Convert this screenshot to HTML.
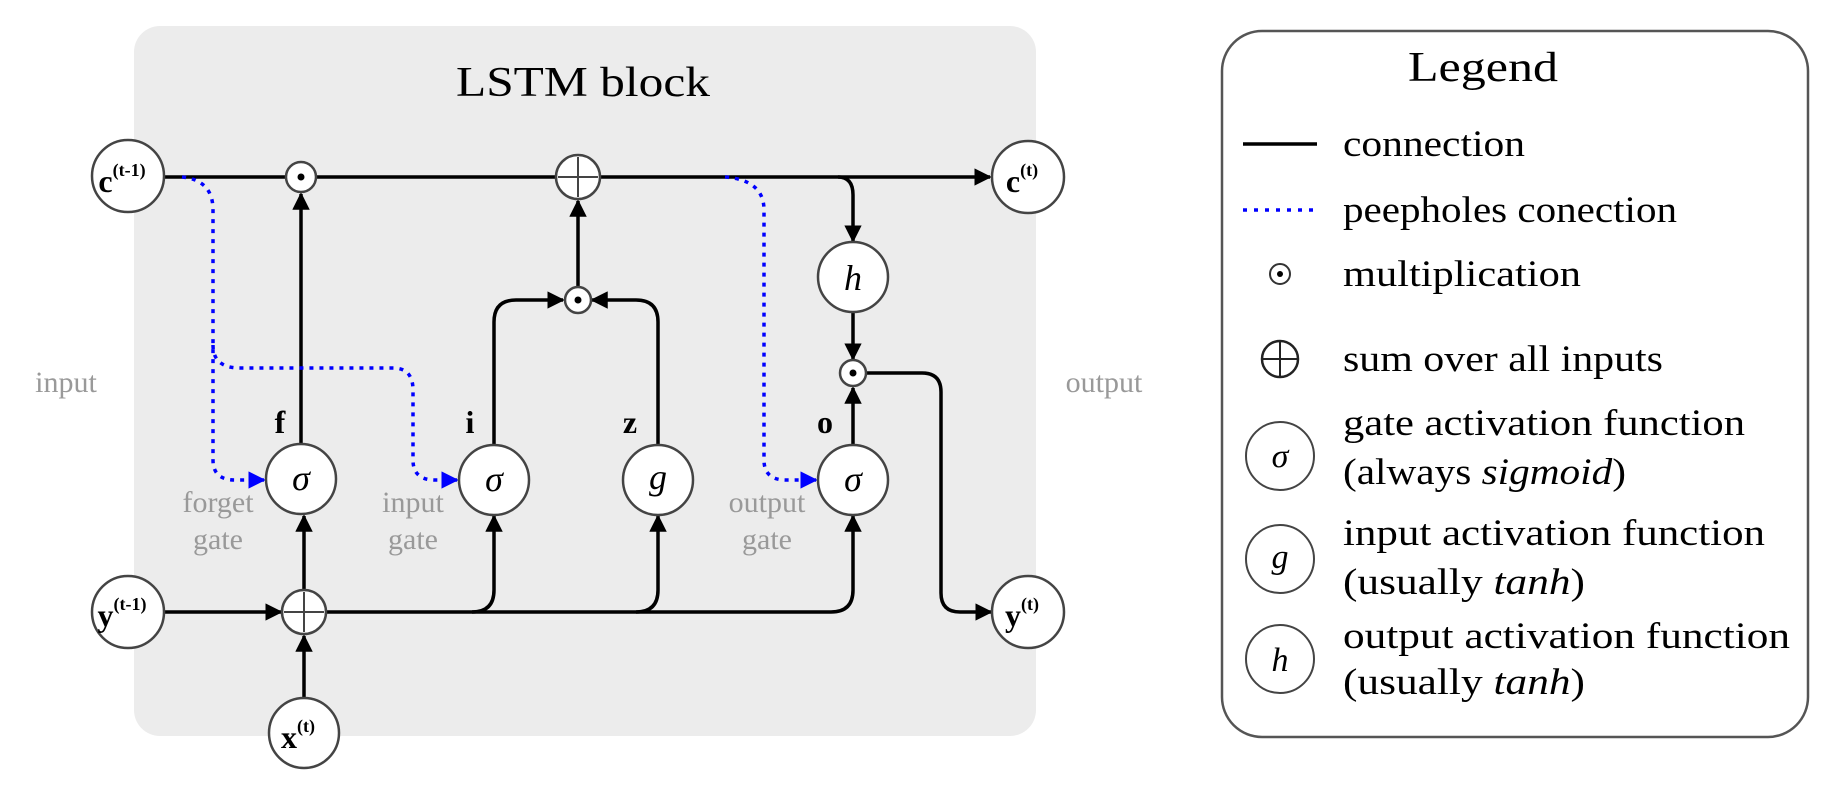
<!DOCTYPE html>
<html><head><meta charset="utf-8"><style>
html,body{margin:0;padding:0;background:#fff;width:1835px;height:795px;overflow:hidden}
svg text{font-family:"Liberation Serif",serif}
</style></head><body>
<svg width="1835" height="795" viewBox="0 0 1835 795" xmlns="http://www.w3.org/2000/svg">
<defs>
<marker id="a" viewBox="0 0 10 10" refX="9" refY="5" markerWidth="5" markerHeight="5" orient="auto" markerUnits="strokeWidth"><path d="M0,0L10,5L0,10z" fill="#000"/></marker>
<marker id="b" viewBox="0 0 10 10" refX="9" refY="5" markerWidth="5" markerHeight="5" orient="auto" markerUnits="strokeWidth"><path d="M0,0L10,5L0,10z" fill="#00f"/></marker>
</defs>
<rect x="134" y="26" width="902" height="710" rx="26" fill="#ececec"/>
<text x="583" y="96" font-size="42" text-anchor="middle" textLength="254" lengthAdjust="spacingAndGlyphs">LSTM block</text>
<text x="66" y="392" font-size="30" fill="#999" text-anchor="middle">input</text>
<text x="1104" y="392" font-size="30" fill="#999" text-anchor="middle">output</text>

<g fill="none" stroke="#000" stroke-width="3.5">
<path d="M164,177H990" marker-end="url(#a)"/>
<path d="M301,444V194" marker-end="url(#a)"/>
<path d="M578,288V201" marker-end="url(#a)"/>
<path d="M494,445V322Q494,300 516,300H563" marker-end="url(#a)"/>
<path d="M658,445V322Q658,300 636,300H592" marker-end="url(#a)"/>
<path d="M838,177Q853,177 853,195V241" marker-end="url(#a)"/>
<path d="M853,312V359" marker-end="url(#a)"/>
<path d="M853,445V388" marker-end="url(#a)"/>
<path d="M866,373H922Q941,373 941,392V593Q941,612 960,612H991" marker-end="url(#a)"/>
<path d="M164,612H281" marker-end="url(#a)"/>
<path d="M304,698V636" marker-end="url(#a)"/>
<path d="M304,590V516" marker-end="url(#a)"/>
<path d="M326,612H472Q494,612 494,590V516" marker-end="url(#a)"/>
<path d="M472,612H636Q658,612 658,590V516" marker-end="url(#a)"/>
<path d="M636,612H831Q853,612 853,590V516" marker-end="url(#a)"/>
</g>
<g fill="none" stroke="#00f" stroke-width="3.5" stroke-dasharray="4 6">
<path d="M182,177Q213,180 213,210V460Q213,480 235,480H264" marker-end="url(#b)"/>
<path d="M213,345Q213,368 240,368H393Q413,368 413,390V460Q413,480 435,480H457" marker-end="url(#b)"/>
<path d="M725,177Q764,180 764,210V460Q764,480 786,480H816" marker-end="url(#b)"/>
</g>

<g fill="#fff" stroke="#444" stroke-width="2.5">
<circle cx="128" cy="176" r="36"/><circle cx="1028" cy="177" r="36"/>
<circle cx="128" cy="612" r="36"/><circle cx="1028" cy="612" r="36"/>
<circle cx="304" cy="733" r="35"/>
<circle cx="301" cy="479" r="35"/><circle cx="494" cy="480" r="35"/>
<circle cx="658" cy="480" r="35"/><circle cx="853" cy="480" r="35"/>
<circle cx="853" cy="277" r="35"/>
<circle cx="301" cy="177" r="15"/><circle cx="578" cy="300" r="13"/><circle cx="853" cy="373" r="13"/>
<circle cx="578" cy="177" r="22"/><circle cx="304" cy="612" r="22"/>
</g>
<g fill="#000"><circle cx="301" cy="177" r="3.5"/><circle cx="578" cy="300" r="3.5"/><circle cx="853" cy="373" r="3.5"/></g>
<g stroke="#444" stroke-width="2"><path d="M558,177H598M578,157V197M284,612H324M304,592V632"/></g>

<g font-size="32" text-anchor="middle" font-weight="bold">
<text x="122" y="192">c<tspan font-size="18" dy="-16">(t-1)</tspan></text>
<text x="1022" y="192">c<tspan font-size="18" dy="-16">(t)</tspan></text>
<text x="122" y="626">y<tspan font-size="18" dy="-16">(t-1)</tspan></text>
<text x="1022" y="626">y<tspan font-size="18" dy="-16">(t)</tspan></text>
<text x="298" y="748">x<tspan font-size="18" dy="-16">(t)</tspan></text>
<text x="280" y="433">f</text><text x="470" y="433">i</text><text x="630" y="433">z</text><text x="825" y="433">o</text>
</g>
<g font-size="36" font-style="italic" text-anchor="middle">
<text x="301" y="490">σ</text><text x="494" y="491">σ</text><text x="658" y="489">g</text><text x="853" y="491">σ</text><text x="853" y="290">h</text>
</g>
<g font-size="30" fill="#999" text-anchor="middle">
<text x="218" y="512">forget</text><text x="218" y="549">gate</text>
<text x="413" y="512">input</text><text x="413" y="549">gate</text>
<text x="767" y="512">output</text><text x="767" y="549">gate</text>
</g>

<rect x="1222" y="31" width="586" height="706" rx="40" fill="#fff" stroke="#555" stroke-width="2.5"/>
<text x="1483" y="81" font-size="42" text-anchor="middle" textLength="150" lengthAdjust="spacingAndGlyphs">Legend</text>
<path d="M1243,144H1317" stroke="#000" stroke-width="3.5"/>
<path d="M1243,210H1317" stroke="#00f" stroke-width="3.5" stroke-dasharray="4 7"/>
<circle cx="1280" cy="274" r="10" fill="#fff" stroke="#333" stroke-width="2"/><circle cx="1280" cy="274" r="3" fill="#000"/>
<circle cx="1280" cy="359" r="18" fill="#fff" stroke="#222" stroke-width="2.5"/><path d="M1262,359H1298M1280,341V377" stroke="#222" stroke-width="2"/>
<g fill="#fff" stroke="#444" stroke-width="2"><circle cx="1280" cy="456" r="34"/><circle cx="1280" cy="559" r="34"/><circle cx="1280" cy="659" r="34"/></g>
<g font-size="34" font-style="italic" text-anchor="middle"><text x="1280" y="467">σ</text><text x="1280" y="568">g</text><text x="1280" y="671">h</text></g>
<g font-size="37" lengthAdjust="spacingAndGlyphs">
<text x="1343" y="156" textLength="182" lengthAdjust="spacingAndGlyphs">connection</text>
<text x="1343" y="222" textLength="334" lengthAdjust="spacingAndGlyphs">peepholes conection</text>
<text x="1343" y="286" textLength="238" lengthAdjust="spacingAndGlyphs">multiplication</text>
<text x="1343" y="371" textLength="320" lengthAdjust="spacingAndGlyphs">sum over all inputs</text>
<text x="1343" y="435" textLength="402" lengthAdjust="spacingAndGlyphs">gate activation function</text>
<text x="1343" y="484" textLength="283" lengthAdjust="spacingAndGlyphs">(always <tspan font-style="italic">sigmoid</tspan>)</text>
<text x="1343" y="545" textLength="422" lengthAdjust="spacingAndGlyphs">input activation function</text>
<text x="1343" y="594" textLength="242" lengthAdjust="spacingAndGlyphs">(usually <tspan font-style="italic">tanh</tspan>)</text>
<text x="1343" y="648" textLength="447" lengthAdjust="spacingAndGlyphs">output activation function</text>
<text x="1343" y="694" textLength="242" lengthAdjust="spacingAndGlyphs">(usually <tspan font-style="italic">tanh</tspan>)</text>
</g>
</svg>
</body></html>
